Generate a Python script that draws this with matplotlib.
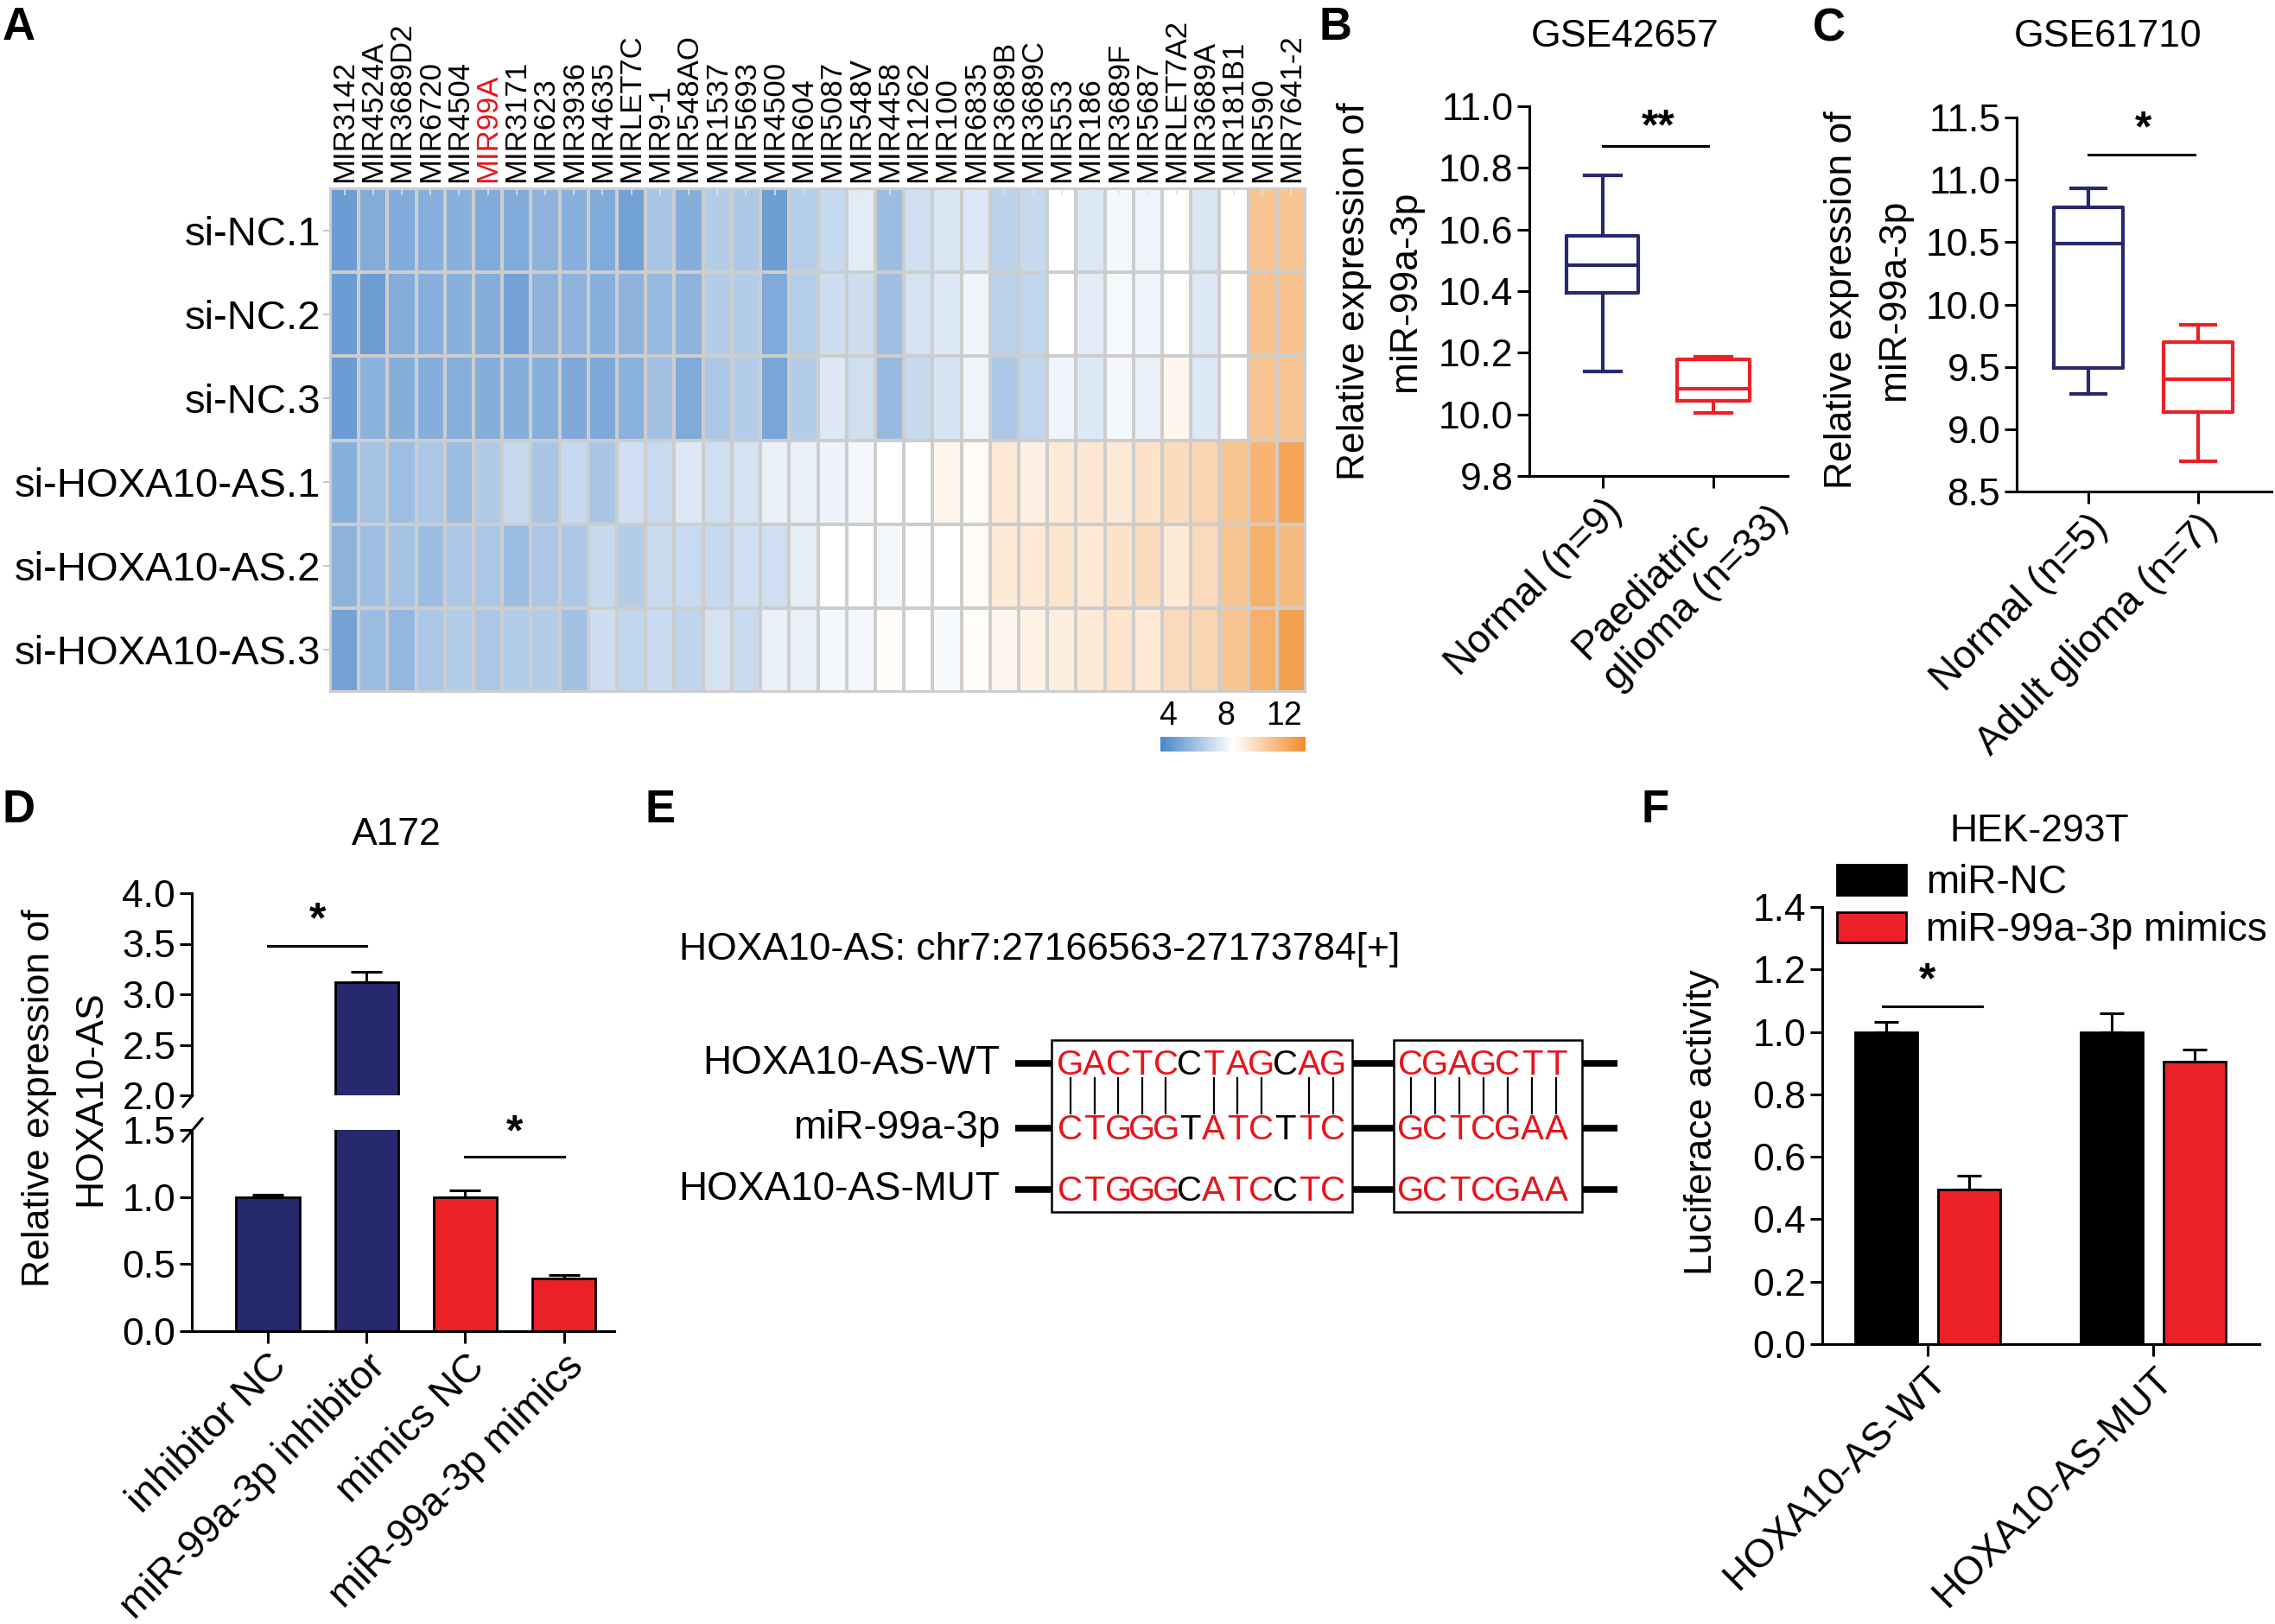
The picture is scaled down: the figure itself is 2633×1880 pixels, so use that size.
import numpy as np
import matplotlib
matplotlib.use('Agg')
import matplotlib.pyplot as plt
from matplotlib import font_manager as fm
from matplotlib.colors import LinearSegmentedColormap, Normalize
from matplotlib.cm import ScalarMappable
from matplotlib.patches import Rectangle
from matplotlib.transforms import ScaledTranslation

# ---------------- data ----------------
mirnas = ['MIR3142', 'MIR4524A', 'MIR3689D2', 'MIR6720', 'MIR4504', 'MIR99A', 'MIR3171', 'MIR623',
          'MIR3936', 'MIR4635', 'MIRLET7C', 'MIR9-1', 'MIR548AO', 'MIR1537', 'MIR5693', 'MIR4500',
          'MIR604', 'MIR5087', 'MIR548V', 'MIR4458', 'MIR1262', 'MIR100', 'MIR6835', 'MIR3689B',
          'MIR3689C', 'MIR553', 'MIR186', 'MIR3689F', 'MIR5687', 'MIRLET7A2', 'MIR3689A', 'MIR181B1',
          'MIR590', 'MIR7641-2']
samples = ['si-NC.1', 'si-NC.2', 'si-NC.3', 'si-HOXA10-AS.1', 'si-HOXA10-AS.2', 'si-HOXA10-AS.3']
expr_nc1 = [4.4, 5.1, 5.05, 5.2, 5.25, 5.0, 5.0, 5.35, 5.25, 5.0, 4.6, 6.1, 5.15, 6.4, 6.25, 4.5,
            6.45, 6.9, 7.7, 5.8, 7.2, 7.45, 7.55, 6.65, 6.9, 8.5, 7.55, 8.2, 8.05, 8.5, 7.45, 8.5, 11.0, 11.0]
expr_nc2 = [4.4, 4.45, 5.1, 5.2, 5.25, 5.1, 4.7, 5.4, 5.4, 5.25, 5.4, 5.65, 5.35, 6.4, 6.4, 5.0,
            6.45, 7.15, 7.15, 5.85, 7.3, 7.55, 8.05, 6.65, 6.8, 8.5, 7.7, 8.25, 8.1, 8.5, 7.55, 8.5, 11.1, 11.1]
expr_nc3 = [4.4, 5.3, 5.15, 5.15, 5.2, 5.15, 5.15, 5.2, 4.95, 4.95, 5.3, 5.95, 5.0, 6.2, 6.4, 4.8,
            6.4, 7.55, 7.2, 5.65, 6.9, 7.4, 8.05, 6.2, 6.8, 8.05, 7.55, 8.2, 7.9, 8.9, 7.55, 8.5, 11.0, 11.0]
expr_si1 = [5.25, 6.0, 5.85, 6.2, 5.75, 6.3, 6.9, 6.1, 6.9, 6.1, 7.2, 7.0, 7.55, 7.2, 7.3, 7.9,
            7.9, 8.0, 8.2, 8.5, 8.5, 8.9, 8.7, 9.5, 9.15, 9.4, 9.55, 9.45, 9.75, 10.0, 10.3, 11.0, 11.8, 12.4]
expr_si2 = [5.35, 5.85, 6.0, 5.8, 6.2, 6.2, 5.75, 6.2, 6.2, 6.9, 6.4, 7.0, 7.0, 6.9, 7.2, 7.2,
            7.8, 8.5, 8.5, 8.2, 8.45, 8.5, 8.7, 9.4, 9.45, 9.65, 9.45, 9.75, 10.0, 9.4, 10.1, 11.0, 11.9, 11.5]
expr_si3 = [4.7, 5.8, 5.55, 6.25, 6.4, 6.2, 6.4, 6.4, 5.95, 7.15, 6.8, 7.0, 6.75, 7.3, 7.0, 7.9,
            7.9, 8.2, 8.2, 8.65, 8.5, 8.3, 8.65, 8.9, 9.05, 9.25, 9.4, 9.65, 9.45, 10.1, 10.3, 11.0, 11.9, 12.6]
cbar_ticks = [4, 8, 12]

b_groups = ['Normal (n=9)', 'Paediatric\nglioma (n=33)']
b_whislo = [10.14, 10.005]
b_q1 = [10.395, 10.045]
b_med = [10.484, 10.084]
b_q3 = [10.58, 10.178]
b_whishi = [10.776, 10.186]
b_yticks = [9.8, 10.0, 10.2, 10.4, 10.6, 10.8, 11.0]

c_groups = ['Normal (n=5)', 'Adult glioma (n=7)']
c_whislo = [9.28, 8.74]
c_q1 = [9.49, 9.14]
c_med = [10.49, 9.40]
c_q3 = [10.78, 9.70]
c_whishi = [10.93, 9.84]
c_yticks = [8.5, 9.0, 9.5, 10.0, 10.5, 11.0, 11.5]

d_groups = ['inhibitor NC', 'miR-99a-3p inhibitor', 'mimics NC', 'miR-99a-3p mimics']
d_mean = [1.00, 3.12, 1.00, 0.39]
d_sem = [0.02, 0.10, 0.047, 0.03]
d_yticks_low = [0.0, 0.5, 1.0, 1.5]
d_yticks_high = [2.0, 2.5, 3.0, 3.5, 4.0]

f_groups = ['HOXA10-AS-WT', 'HOXA10-AS-MUT']
f_series = ['miR-NC', 'miR-99a-3p mimics']
f_nc = [1.00, 1.00]
f_nc_err = [0.032, 0.059]
f_mim = [0.496, 0.905]
f_mim_err = [0.044, 0.038]
f_yticks = [0.0, 0.2, 0.4, 0.6, 0.8, 1.0, 1.2, 1.4]

e_title = 'HOXA10-AS: chr7:27166563-27173784[+]'
e_rows = ['HOXA10-AS-WT', 'miR-99a-3p', 'HOXA10-AS-MUT']
e_site1 = ['GACTCCTAGCAG', 'CTGGGTATCTTC', 'CTGGGCATCCTC']
e_site2 = ['CGAGCTT', 'GCTCGAA', 'GCTCGAA']
e_black1 = [5, 9]
e_pairs1 = [0, 1, 2, 3, 4, 6, 7, 8, 10, 11]
e_pairs2 = [0, 1, 2, 3, 4, 5, 6]

# ---------------- style ----------------
W, H = 2633, 1880
names = {f.name for f in fm.fontManager.ttflist}
REG = 'Liberation Sans' if 'Liberation Sans' in names else 'DejaVu Sans'
NAR = 'Liberation Sans Narrow' if 'Liberation Sans Narrow' in names else REG
NSC = 1.2 if NAR != REG else 1.0
plt.rcParams['font.family'] = [REG, 'DejaVu Sans']
plt.rcParams['axes.linewidth'] = 2.2

NAVY = '#27296e'
RED = '#ec2027'
TRED = '#e8141c'
LW = 2.2
TICK = 32

fig = plt.figure(figsize=(W / 100, H / 100), dpi=100)


def add_ax(x0, y0, x1, y1):
    return fig.add_axes([x0 / W, 1 - y1 / H, (x1 - x0) / W, (y1 - y0) / H])


ov = fig.add_axes([0, 0, 1, 1], zorder=-5)
ov.set_xlim(0, W)
ov.set_ylim(H, 0)
ov.axis('off')

for lab, (x, y) in zip('ABCDEF', [(22, 32), (1545, 32), (2117, 34), (22, 938), (764, 938), (1916, 938)]):
    ov.text(x, y, lab, fontsize=38, fontweight='bold', ha='center', va='center')

# ---------------- A heatmap ----------------
axA = add_ax(382, 218, 1511, 801)
data = np.array([expr_nc1, expr_nc2, expr_nc3, expr_si1, expr_si2, expr_si3])
cmap = LinearSegmentedColormap.from_list('bwo', ['#4a86c9', '#ffffff', '#f28c28'])
norm = Normalize(3.5, 13.5)
axA.pcolormesh(data, cmap=cmap, norm=norm, edgecolors='#cdcdcd', linewidth=1.6)
axA.set_xlim(0, len(mirnas))
axA.set_ylim(len(samples), 0)
axA.set_xticks(np.arange(len(mirnas)) + 0.5)
axA.set_xticklabels(mirnas, rotation=90, fontsize=25)
axA.xaxis.tick_top()
axA.tick_params(axis='x', top=True, bottom=False, direction='in', length=6, width=1.2,
                color='#e2e2e2', pad=5)
for t in axA.get_xticklabels():
    if t.get_text() == 'MIR99A':
        t.set_color(TRED)
axA.set_yticks(np.arange(len(samples)) + 0.5)
axA.set_yticklabels(samples, fontsize=34)
axA.tick_params(axis='y', length=6, width=1.2, color='#bdbdbd', pad=2)
for s in axA.spines.values():
    s.set_color('#cdcdcd')
    s.set_linewidth(1.6)

cax = add_ax(1343, 853, 1511, 870)
cb = fig.colorbar(ScalarMappable(norm=norm, cmap=cmap), cax=cax, orientation='horizontal',
                  ticks=cbar_ticks)
cb.outline.set_visible(False)
cax.xaxis.set_ticks_position('top')
cax.tick_params(length=0, labelsize=27, pad=4)


# ---------------- B / C boxplots ----------------
def style_axes(ax):
    ax.spines['top'].set_visible(False)
    ax.spines['right'].set_visible(False)
    ax.tick_params(length=10, width=LW, labelsize=TICK)


def boxpanel(ax, groups, lo, q1, med, q3, hi, yt, width):
    stats = [dict(med=m, q1=a, q3=b, whislo=l, whishi=h, label=g)
             for g, l, a, m, b, h in zip(groups, lo, q1, med, q3, hi)]
    art = ax.bxp(stats, positions=[0, 1], widths=width, capwidths=width * 0.5,
                 showfliers=False, manage_ticks=False)
    cols = [NAVY, RED]
    for i, c in enumerate(cols):
        art['boxes'][i].set(color=c, linewidth=3)
        art['medians'][i].set(color=c, linewidth=3)
        for k in (2 * i, 2 * i + 1):
            art['whiskers'][k].set(color=c, linewidth=3)
            art['caps'][k].set(color=c, linewidth=3)
    style_axes(ax)
    ax.set_yticks(yt)
    ax.set_yticklabels(['%.1f' % v for v in yt])
    ax.set_ylim(yt[0], yt[-1])
    ax.set_xticks([0, 1])
    ax.set_xticklabels(groups, rotation=45, ha='right', va='top', rotation_mode='anchor',
                       fontsize=33, multialignment='left')


axB = add_ax(1770, 123, 2069, 551)
boxpanel(axB, b_groups, b_whislo, b_q1, b_med, b_q3, b_whishi, b_yticks, 0.65)
axB.set_xlim(-0.66, 1.67)
lab2 = axB.get_xticklabels()[1]
lab2.set_transform(lab2.get_transform() + ScaledTranslation(0.28, 0.28, fig.dpi_scale_trans))
axB.plot([0, 0.95], [10.87, 10.87], color='black', lw=LW, clip_on=False)
axB.text(0.5, 10.93, '**', ha='center', va='center', fontsize=36, fontweight='bold')
ov.text(1567, 337, 'Relative expression of', rotation=90, ha='center', va='center', fontsize=32)
ov.text(1626, 337, 'miR-99a-3p', rotation=90, ha='center', va='center', fontsize=32)
ov.text(1881, 42, 'GSE42657', ha='center', va='center', fontsize=32)

axC = add_ax(2334, 136, 2629, 569)
boxpanel(axC, c_groups, c_whislo, c_q1, c_med, c_q3, c_whishi, c_yticks, 0.63)
axC.set_xlim(-0.65, 1.67)
axC.plot([0, 0.97], [11.2, 11.2], color='black', lw=LW, clip_on=False)
axC.text(0.5, 11.40, '*', ha='center', va='center', fontsize=36, fontweight='bold')
ov.text(2132, 347, 'Relative expression of', rotation=90, ha='center', va='center', fontsize=32)
ov.text(2192, 347, 'miR-99a-3p', rotation=90, ha='center', va='center', fontsize=32)
ov.text(2440, 43, 'GSE61710', ha='center', va='center', fontsize=32)

# ---------------- D broken-axis bars ----------------
axDt = add_ax(222, 1034, 711, 1268)
axDb = add_ax(222, 1308, 711, 1541)
xd = np.arange(len(d_groups))
dcols = [NAVY, NAVY, RED, RED]
for ax in (axDt, axDb):
    ax.bar(xd, d_mean, width=0.64, color=dcols, edgecolor='black', linewidth=2)
    ax.errorbar(xd, d_mean, yerr=[np.zeros(len(d_sem)), d_sem], fmt='none', ecolor='black',
                elinewidth=2.2, capsize=13, capthick=2.2, zorder=1)
    ax.set_xlim(-0.77, 3.51)
    style_axes(ax)
axDt.set_ylim(2.0, 4.0)
axDt.set_yticks(d_yticks_high)
axDt.set_yticklabels(['%.1f' % v for v in d_yticks_high])
axDt.spines['bottom'].set_visible(False)
axDt.set_xticks([])
axDb.set_ylim(0, 1.5)
axDb.set_yticks(d_yticks_low)
axDb.set_yticklabels(['%.1f' % v for v in d_yticks_low])
axDb.set_xticks(xd)
axDb.set_xticklabels(d_groups, rotation=45, ha='right', va='top', rotation_mode='anchor', fontsize=33)
axDt.plot([0, 1], [3.48, 3.48], color='black', lw=LW, clip_on=False)
axDt.text(0.5, 3.72, '*', ha='center', va='center', fontsize=36, fontweight='bold')
axDb.plot([2, 3], [1.30, 1.30], color='black', lw=LW, clip_on=False)
axDb.text(2.5, 1.47, '*', ha='center', va='center', fontsize=36, fontweight='bold', clip_on=False)
for yb in (1268, 1308):
    ov.plot([212, 234], [yb + 13, yb - 13], color='black', lw=LW)
ov.text(46, 1271, 'Relative expression of', rotation=90, ha='center', va='center', fontsize=32)
ov.text(105, 1271, 'HOXA10-AS', rotation=90, ha='center', va='center', fontsize=32)
ov.text(459, 966, 'A172', ha='center', va='center', fontsize=32)

# ---------------- E sequence diagram ----------------
ov.text(786, 1100, e_title, ha='left', va='center', fontsize=32 * NSC, family=NAR)
row_y = [1231, 1306, 1377]
for lab, y in zip(e_rows, row_y):
    ov.text(1157, y, lab, ha='right', va='center', fontsize=33 * NSC, family=NAR)
    for xa, xb in [(1175, 1217), (1565, 1613), (1831, 1872)]:
        ov.plot([xa, xb], [y, y], color='black', lw=5.5, solid_capstyle='butt')
for (xa, xb) in [(1217, 1565), (1613, 1831)]:
    ov.add_patch(Rectangle((xa, 1204), xb - xa, 1403 - 1204, fill=False, edgecolor='black', lw=1.8))


def draw_site(seqs, x0, step, black, pairs):
    for seq, y in zip(seqs, row_y):
        for i, ch in enumerate(seq):
            ov.text(x0 + i * step, y + 2, ch, ha='center', va='center', fontsize=29 * NSC, family=NAR,
                    color='black' if i in black else TRED)
    for i in pairs:
        ov.plot([x0 + i * step, x0 + i * step], [row_y[0] + 17, row_y[1] - 17], color='black', lw=1.6)


draw_site(e_site1, 1239, 27.6, e_black1, e_pairs1)
draw_site(e_site2, 1633, 28.0, [], e_pairs2)

# ---------------- F grouped bars ----------------
axF = add_ax(2109, 1050, 2615, 1556)
xf = np.arange(len(f_groups))
off = 0.183
bw = 0.275
axF.bar(xf - off, f_nc, width=bw, color='black', edgecolor='black', linewidth=2, label=f_series[0])
axF.bar(xf + off, f_mim, width=bw, color=RED, edgecolor='black', linewidth=2, label=f_series[1])
axF.errorbar(xf - off, f_nc, yerr=[np.zeros(2), f_nc_err], fmt='none', ecolor='black', elinewidth=2.2,
             capsize=10, capthick=2.2, zorder=1)
axF.errorbar(xf + off, f_mim, yerr=[np.zeros(2), f_mim_err], fmt='none', ecolor='black', elinewidth=2.2,
             capsize=10, capthick=2.2, zorder=1)
style_axes(axF)
axF.set_xlim(-0.466, 1.47)
axF.set_ylim(0, 1.4)
axF.set_yticks(f_yticks)
axF.set_yticklabels(['%.1f' % v for v in f_yticks])
axF.set_xticks(xf)
axF.set_xticklabels(f_groups, rotation=45, ha='right', va='top', rotation_mode='anchor', fontsize=33)
axF.plot([-0.2, 0.24], [1.083, 1.083], color='black', lw=LW, clip_on=False)
axF.text(0.0, 1.16, '*', ha='center', va='center', fontsize=36, fontweight='bold')
axF.legend(loc='upper left', bbox_to_anchor=(2126 / W, 1 - 1000 / H), bbox_transform=fig.transFigure,
           frameon=False, fontsize=33, handlelength=1.75, handleheight=0.8, handletextpad=0.5,
           borderpad=0, borderaxespad=0, labelspacing=0.25)
ov.text(1970, 1299, 'Luciferace activity', rotation=90, ha='center', va='center', fontsize=32)
ov.text(2360, 963, 'HEK-293T', ha='center', va='center', fontsize=32)

fig.savefig('out.png', dpi=100)
